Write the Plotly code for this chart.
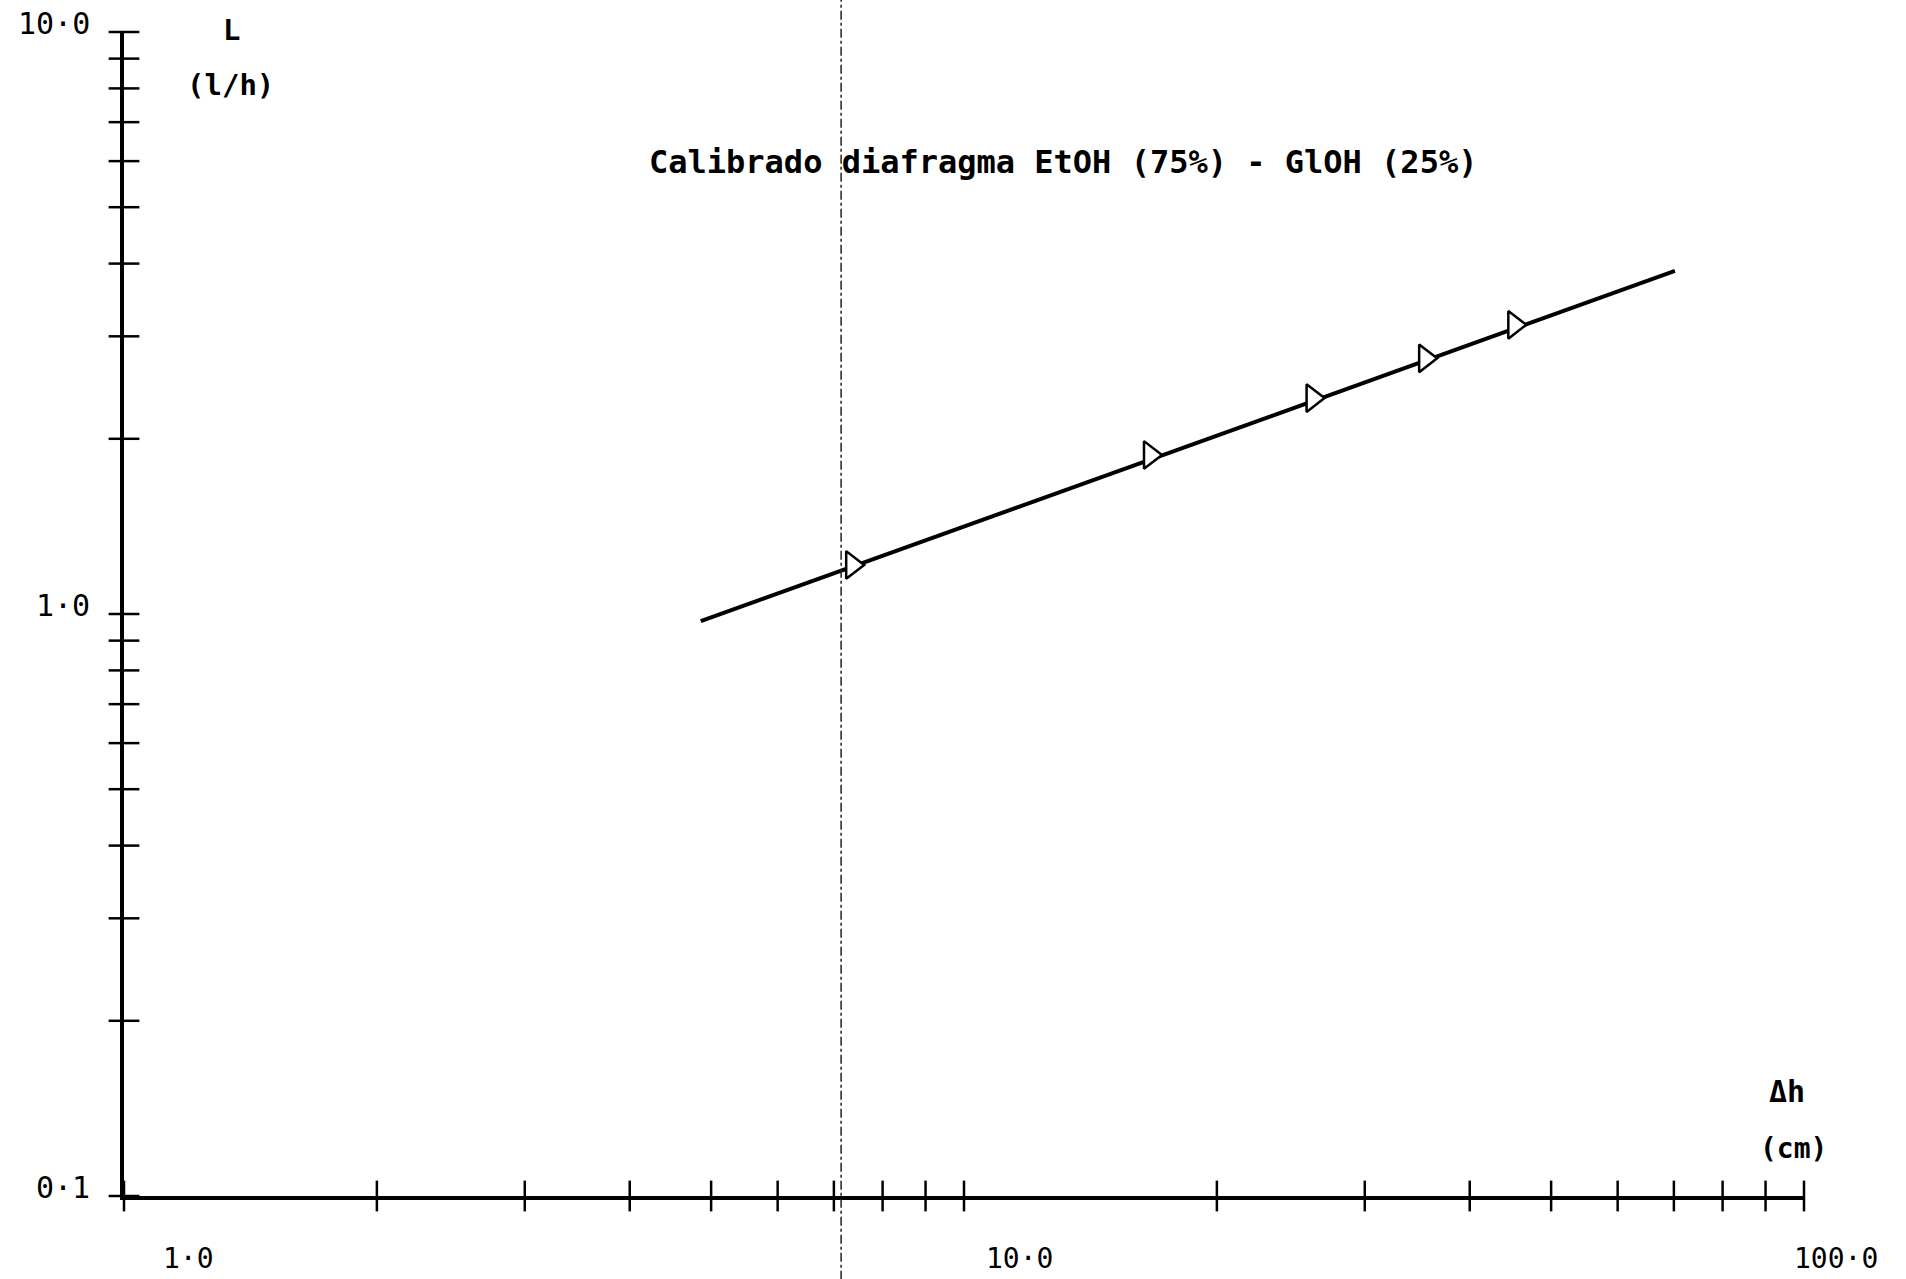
import plotly.graph_objects as go
import math

# Calibration points for the diaphragm: pressure drop (cm) vs flow (l/h)
dh_cm = [7.36, 16.65, 26.0, 35.4, 45.2]
flow_lh = [1.214, 1.876, 2.35, 2.75, 3.14]

# Fitted calibration line (log-log), end points
fit_dh = [4.86, 70.2]
fit_flow = [0.972, 3.886]

# Log-axis ticks
x_ticks = [1, 2, 3, 4, 5, 6, 7, 8, 9, 10, 20, 30, 40, 50, 60, 70, 80, 90, 100]
y_ticks = [0.1, 0.2, 0.3, 0.4, 0.5, 0.6, 0.7, 0.8, 0.9,
           1, 2, 3, 4, 5, 6, 7, 8, 9, 10]
x_labels = [1.0, 10.0, 100.0]
y_labels = [0.1, 1.0, 10.0]
x_label_text = ["1·0", "10·0", "100·0"]
y_label_text = ["0·1", "1·0", "10·0"]

# axis limits (decades)
x_range = [1, 100]
y_range = [0.1, 10]

# vertical dash-dot guide
guide_dh = 7.14

title_text = "Calibrado diafragma EtOH (75%) - GlOH (25%)"

MONO = "DejaVu Sans Mono"
INK = "#000000"

fig = go.Figure()

fig.add_trace(go.Scatter(
    x=fit_dh, y=fit_flow, mode="lines",
    line=dict(color=INK, width=4),
    showlegend=False, hoverinfo="skip",
))
fig.add_trace(go.Scatter(
    x=dh_cm, y=flow_lh, mode="markers",
    marker=dict(symbol="triangle-right", size=24, color="white",
                line=dict(color=INK, width=2.5)),
    showlegend=False,
))

# "+" style tick marks that cross each axis line
fig.add_trace(go.Scatter(
    x=x_ticks, y=[y_range[0]] * len(x_ticks), mode="markers",
    marker=dict(symbol="line-ns", size=22, line=dict(color=INK, width=2.5)),
    cliponaxis=False, showlegend=False, hoverinfo="skip",
))
fig.add_trace(go.Scatter(
    x=[x_range[0]] * len(y_ticks), y=y_ticks, mode="markers",
    marker=dict(symbol="line-ew", size=22, line=dict(color=INK, width=2.5)),
    cliponaxis=False, showlegend=False, hoverinfo="skip",
))

fig.update_layout(
    width=1906, height=1279,
    margin=dict(l=124, r=102, t=32, b=83),
    paper_bgcolor="white", plot_bgcolor="white",
    xaxis=dict(type="log", range=[math.log10(v) for v in x_range],
               showgrid=False, zeroline=False, showticklabels=False,
               ticks="", showline=True, linecolor=INK, linewidth=4),
    yaxis=dict(type="log", range=[math.log10(v) for v in y_range],
               showgrid=False, zeroline=False, showticklabels=False,
               ticks="", showline=True, linecolor=INK, linewidth=4),
)

# dash-dot guide across the sheet
fig.add_shape(type="line", xref="x", yref="paper",
              x0=guide_dh, x1=guide_dh, y0=-0.072, y1=1.03,
              line=dict(color="#222222", width=1.5, dash="dashdot"))

annotations = []
for v, t in zip(y_labels, y_label_text):
    annotations.append(dict(
        x=0, xref="paper", y=math.log10(v), yref="y",
        text=t, showarrow=False, xanchor="right", yanchor="middle",
        xshift=-32, yshift=9, font=dict(family=MONO, size=30, color=INK)))

x_shift = [64, 55, 32]
for v, t, s in zip(x_labels, x_label_text, x_shift):
    annotations.append(dict(
        x=math.log10(v), xref="x", y=0, yref="paper",
        text=t, showarrow=False, xanchor="center", yanchor="middle",
        xshift=s, yshift=-62, font=dict(family=MONO, size=28, color=INK)))

annotations += [
    dict(x=0.559, y=0.888, xref="paper", yref="paper", text=f"<b>{title_text}</b>",
         showarrow=False, xanchor="center", yanchor="middle",
         font=dict(family=MONO, size=32, color=INK)),
    dict(x=0.0637, y=1.0017, xref="paper", yref="paper", text="<b>L</b>",
         showarrow=False, xanchor="center", yanchor="middle",
         font=dict(family=MONO, size=29, color=INK)),
    dict(x=0.0631, y=0.9545, xref="paper", yref="paper", text="<b>(l/h)</b>",
         showarrow=False, xanchor="center", yanchor="middle",
         font=dict(family=MONO, size=29, color=INK)),
    dict(x=0.990, y=0.090, xref="paper", yref="paper", text="<b>Δh</b>",
         showarrow=False, xanchor="center", yanchor="middle",
         font=dict(family=MONO, size=30, color=INK)),
    dict(x=0.9935, y=0.041, xref="paper", yref="paper", text="<b>(cm)</b>",
         showarrow=False, xanchor="center", yanchor="middle",
         font=dict(family=MONO, size=28, color=INK)),
]
fig.update_layout(annotations=annotations)

fig.write_html("out.html")
